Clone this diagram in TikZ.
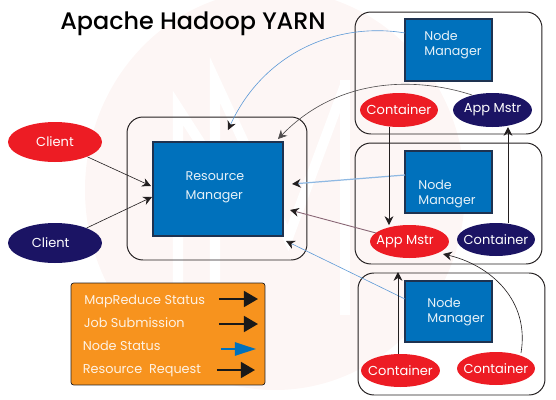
\documentclass[tikz,border=0pt]{standalone}
\usepackage{fontspec}
\setmainfont{Poppins}
\newfontfamily\titlefont{Poppins Medium}
\usetikzlibrary{shapes.geometric, arrows.meta, positioning}

\begin{document}
\begin{tikzpicture}[
    x=0.02cm, y=-0.02cm,
    % Styles
    outerbox/.style={
        rectangle, rounded corners=9pt,
        draw=boxline, line width=0.55pt, inner sep=0pt
    },
    manager/.style={
        rectangle, draw=managerline, fill=managerblue,
        line width=0.6pt, inner sep=0pt
    },
    managertext/.style={
        font=\fontsize{7.2}{9}\selectfont, text=white!90!managerblue,
        align=left, inner sep=0pt
    },
    redoval/.style={
        ellipse, fill=ovalred, inner xsep=-4pt, inner ysep=0pt,
        font=\fontsize{7.4}{9}\selectfont, text=white
    },
    navyoval/.style={
        ellipse, fill=ovalnavy, inner xsep=-4pt, inner ysep=0pt,
        font=\fontsize{7.4}{9}\selectfont, text=white
    },
    legendtext/.style={
        font=\fontsize{7.3}{9}\selectfont, text=white!88!legendorange,
        anchor=west, inner sep=0pt
    },
    arrow/.style={
        -{Stealth[length=5pt, width=5pt]},
        line width=0.35pt, color=boxline
    },
    statusarrow/.style={
        -{Stealth[length=5pt, width=5pt, color=boxline]},
        line width=0.35pt, color=statusblue
    },
    resourcearrow/.style={
        -{Stealth[length=5pt, width=5pt, color=boxline]},
        line width=0.5pt, color=mauve
    },
    legendarrow/.style={
        -{Triangle[length=8pt, width=9pt]},
        line width=1.3pt, color=black!90
    },
    watermark/.style={
        draw=white, line width=5.7pt, line join=miter
    },
]
% Define colors
\definecolor{boxline}{RGB}{35,31,32}
\definecolor{managerline}{RGB}{30,50,80}
\definecolor{managerblue}{RGB}{0,113,188}
\definecolor{ovalred}{RGB}{237,28,36}
\definecolor{ovalnavy}{RGB}{27,20,100}
\definecolor{legendorange}{RGB}{247,147,30}
\definecolor{statusblue}{RGB}{95,155,215}
\definecolor{mauve}{RGB}{135,100,115}
\definecolor{washpink}{RGB}{253,246,245}

\useasboundingbox (0,0) rectangle (556,400);

% Watermark
\fill[washpink] (275,190) ellipse [x radius=190, y radius=200];
\draw[watermark] (178,315) -- (178,108) -- (205,150);
\draw[watermark] (215,315) -- (215,80) -- (288,238) -- (345,85);
\draw[watermark] (345,315) -- (345,80);

% Title
\node[font=\titlefont\fontsize{13.6}{16}\selectfont, text=black, inner sep=0pt] (title) at (193,24) {Apache Hadoop YARN};

% Resource manager
\node[outerbox, minimum width=3.6cm, minimum height=2.86cm] (rmbox) at (217,188.5) {};
\node[manager, minimum width=2.6cm, minimum height=1.88cm] (rm) at (218,189) {};
\node[managertext, font=\fontsize{7.2}{10.8}\selectfont] (rmtext) at (215,187) {Resource\\Manager};

% Clients
\node[redoval, minimum width=1.88cm, minimum height=0.8cm] (client1) at (55,142) {Client};
\node[navyoval, minimum width=1.88cm, minimum height=0.8cm] (client2) at (55,243) {\hspace*{-5pt}Client};

% Node boxes
\node[outerbox, minimum width=3.74cm, minimum height=2.44cm] (boxa) at (448.5,73) {};
\node[outerbox, minimum width=3.74cm, minimum height=2.42cm] (boxb) at (448.5,203.5) {};
\node[outerbox, minimum width=3.74cm, minimum height=2.44cm] (boxc) at (451.5,334) {};

% Node managers
\node[manager, minimum width=1.74cm, minimum height=1.24cm] (nma) at (448.5,50) {};
\node[manager, minimum width=1.74cm, minimum height=1.24cm] (nmb) at (448.5,182) {};
\node[manager, minimum width=1.74cm, minimum height=1.22cm] (nmc) at (448.5,311.5) {};
\node[managertext] (nmatext) at (453,45) {Node\\Manager};
\node[managertext] (nmbtext) at (447,194) {Node\\Manager};
\node[managertext] (nmctext) at (456,312) {Node\\Manager};

% Containers and masters
\node[redoval, minimum width=1.56cm, minimum height=0.68cm] (conta) at (399,110) {Container};
\node[navyoval, minimum width=1.58cm, minimum height=0.68cm] (mstra) at (492.5,110) {App Mstr};
\node[redoval, minimum width=1.58cm, minimum height=0.66cm] (mstrb) at (409.5,241.5) {\hspace*{-5pt}App Mstr};
\node[navyoval, minimum width=1.56cm, minimum height=0.66cm] (contb) at (496,239.5) {Container};
\node[redoval, minimum width=1.58cm, minimum height=0.66cm] (contc) at (400.5,370.5) {Container};
\node[redoval, minimum width=1.56cm, minimum height=0.66cm] (contd) at (496,368.5) {Container};

% Arrow ends
\coordinate (rmin1) at (151,186);
\coordinate (rmin2) at (152,197);
\coordinate (rmtop1) at (228,130);
\coordinate (rmtop2) at (278,139);
\coordinate (rmright1) at (292,184);
\coordinate (rmright2) at (290,210);
\coordinate (rmright3) at (286,241);
\coordinate (mstrtip) at (443,254);
\coordinate (nmaout) at (405,33);
\coordinate (nmbout) at (405,175);
\coordinate (nmcout) at (405,299);
\coordinate (mstraout) at (472,95);
\coordinate (mstrbout) at (376,233);
\coordinate (contaout) at (389,127);
\coordinate (mstrbin) at (389,225);
\coordinate (contbout) at (508,223);
\coordinate (mstrain) at (508,127);
\coordinate (contcout) at (398,354);
\coordinate (nodebin) at (398,272);
\coordinate (contdout) at (521,353);

% Arrows
\draw[arrow] (client1) -- (rmin1);
\draw[arrow] (client2) -- (rmin2);
\draw[statusarrow] (nmaout) .. controls (340,22) and (265,50) .. (rmtop1);
\draw[arrow, color=boxline!80] (mstraout) .. controls (410,75) and (335,80) .. (rmtop2);
\draw[statusarrow, line width=0.7pt, color=statusblue!70] (nmbout) -- (rmright1);
\draw[resourcearrow] (mstrbout) -- (rmright2);
\draw[statusarrow] (nmcout) -- (rmright3);
\draw[arrow] (contaout) -- (mstrbin);
\draw[arrow] (contbout) -- (mstrain);
\draw[arrow] (contcout) -- (nodebin);
\draw[arrow] (contdout) .. controls (530,300) and (490,265) .. (mstrtip);

% Legend
\node[rectangle, rounded corners=1.5pt, draw=boxline, fill=legendorange, line width=0.4pt,
      minimum width=3.88cm, minimum height=2.04cm, inner sep=0pt] (legend) at (168,334) {};
\node[legendtext] (lgmap) at (84,301) {MapReduce Status};
\node[legendtext] (lgjob) at (83.5,323) {Job Submission};
\node[legendtext] (lgnode) at (82.5,346) {Node Status};
\node[legendtext] (lgres) at (82.5,371) {Resource\ \ Request};
\coordinate (lgmapa) at (219,299);
\coordinate (lgmapb) at (258,299);
\coordinate (lgjoba) at (219,324);
\coordinate (lgjobb) at (258,324);
\coordinate (lgnodea) at (221,349);
\coordinate (lgnodeb) at (256,349);
\coordinate (lgresa) at (217,370);
\coordinate (lgresb) at (255,370);
\draw[legendarrow] (lgmapa) -- (lgmapb);
\draw[legendarrow] (lgjoba) -- (lgjobb);
\draw[legendarrow, -{Triangle[length=12pt, width=7.5pt]}, color=managerblue] (lgnodea) -- (lgnodeb);
\draw[legendarrow] (lgresa) -- (lgresb);

\end{tikzpicture}
\end{document}
